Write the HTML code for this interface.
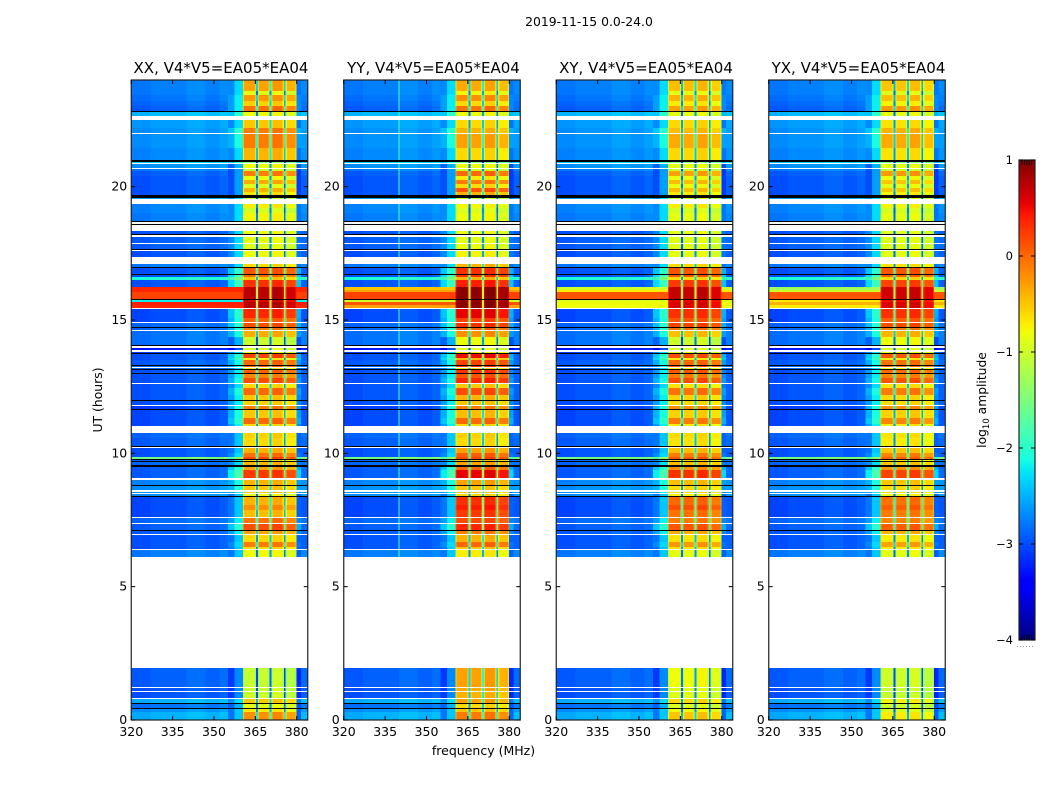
<!DOCTYPE html>
<html lang="en">
<head>
<meta charset="utf-8">
<title>2019-11-15 0.0-24.0</title>
<style>
html,body{margin:0;padding:0;background:#fff;width:1050px;height:800px;overflow:hidden}
svg{display:block}
text{font-family:"DejaVu Sans","Liberation Sans",sans-serif;fill:#000}
</style>
</head>
<body>
<svg id="chart" xmlns="http://www.w3.org/2000/svg" width="1050" height="800" viewBox="0 0 1050 800">
  <rect x="0" y="0" width="1050" height="800" fill="#fff"/>
  <text x="589" y="26" font-size="12.4" text-anchor="middle">2019-11-15 0.0-24.0</text>
  <text x="0" y="0" font-size="12.4" text-anchor="middle" transform="translate(102,400) rotate(-90)">UT (hours)</text>
  <text x="483.5" y="755" font-size="12.5" text-anchor="middle">frequency (MHz)</text>
  <text x="0" y="0" font-size="12.3" text-anchor="middle" transform="translate(986,400) rotate(-90)">log<tspan font-size="8.5" dy="3">10</tspan><tspan dy="-3"> amplitude</tspan></text>
  <g id="panels"></g>
  <g id="colorbar"></g>
</svg>
<script>
/* ---------- chart data ---------- */
const panelTitles = ["XX, V4*V5=EA05*EA04","YY, V4*V5=EA05*EA04","XY, V4*V5=EA05*EA04","YX, V4*V5=EA05*EA04"];
const freqTicks = [320,335,350,365,380];
const hourTicks = [0,5,10,15,20];
const colorbarTicks = [1,0,-1,-2,-3,-4];
const colorbarMinorTicks = [361,363,366,370,375];

/* time-row boundaries in hours UT, top of the plot to the bottom */
const rowEdges = [24.00,23.59,23.44,23.21,23.03,22.84,22.80,22.65,22.50,22.20,22.01,21.98,21.45,21.00,20.93,20.89,20.85,20.70,20.66,20.59,
20.40,20.25,20.10,19.95,19.80,19.69,19.58,19.54,19.35,19.20,19.01,18.71,18.68,18.60,18.56,18.34,18.23,18.19,18.11,17.89,
17.85,17.66,17.63,17.59,17.36,17.10,16.99,16.95,16.73,16.69,16.61,16.50,16.24,15.79,15.75,15.67,15.45,15.41,15.08,14.93,
14.89,14.74,14.70,14.63,14.59,14.36,14.06,14.03,13.95,13.88,13.80,13.76,13.73,13.58,13.50,13.31,13.28,13.24,13.20,13.16,
13.13,13.01,12.98,12.83,12.64,12.60,12.45,12.19,12.00,11.96,11.81,11.78,11.66,11.63,11.33,11.10,11.03,10.76,10.58,10.28,
10.24,10.20,10.01,9.86,9.79,9.75,9.71,9.68,9.56,9.49,9.38,9.08,9.00,8.81,8.78,8.63,8.55,8.51,8.48,8.40,
8.36,8.06,7.88,7.61,7.58,7.39,7.35,7.13,7.09,6.98,6.94,6.68,6.49,6.41,6.38,6.11,1.95,1.24,1.20,1.09,
1.05,0.83,0.79,0.64,0.60,0.45,0.41,0.30,0];

/* d = measured row, w = no data (blank), k = flagged row (black) */
const rowKinds = ("ddddd"+"k"+"d"+"w"+"dd"+"w"+"dd"+"k"+"d"+"w"+"d"+"w"+"d"+"dddddd"+"k"+"d"+"w"+"ddd"+"k"+"w"+"k"+"w"+"d"+"k"+"w"+"d"+"w"+"d"+"k"+"w"+"d"+"w"+"d"+"k"+"d"+"k"+"dddd"+"k"+"dd"+"w"+"dd"+"w"+"d"+"k"+"d"+"w"+"dd"+"k"+"w"+"d"+"w"+"d"+"k"+"ddd"+"k"+"d"+"w"+"d"+"k"+"d"+"k"+"dd"+"w"+"ddd"+"k"+"d"+"w"+"d"+"k"+"ddd"+"w"+"dd"+"k"+"w"+"ddd"+"k"+"d"+"k"+"d"+"k"+"dd"+"w"+"d"+"k"+"d"+"w"+"d"+"w"+"d"+"k"+"ddd"+"w"+"d"+"w"+"d"+"k"+"d"+"w"+"ddd"+"w"+"d"+"w"+"d"+"w"+"d"+"w"+"d"+"w"+"d"+"k"+"d"+"k"+"dd").split("");

/* log10 amplitude inside the 361-380 MHz passband, one value per measured row */
const bandXX = [-0.3,-0.85,-0.25,-0.55,-0.05,-0.8,-0.5,-0.1,-0.1,-0.4,
-1.5,-0.8,-1.0,-0.1,-0.8,-0.35,-0.9,-0.4,-0.65,-1.0,
-0.7,-0.95,-0.75,-0.8,-0.85,-0.9,-0.8,-0.6,0.1,0.0,
-0.5,0.3,0.75,0.6,0.75,0.35,0.05,0.15,-0.1,-0.35,
-1.0,-0.9,-0.8,0.2,-0.7,0.0,0.05,-0.7,0.05,-0.15,
0.15,-0.6,0.0,-0.5,-0.55,-0.1,-0.5,0.0,-0.6,-0.55,
-0.6,-0.4,-0.05,0.2,-0.6,-0.4,-0.3,0.25,-0.4,-0.5,
-0.5,-0.8,-0.4,-0.2,-0.45,-0.05,0.15,-0.3,-0.6,-0.1,
-0.6,-0.8,-1.05,-1.0,-1.0,-0.5,-0.85,-0.7,-0.2];
const bandYY = [-0.35,-0.75,-0.2,-0.6,-0.05,-0.8,-0.6,-0.4,-0.3,-0.6,
-1.5,-0.8,-1.0,0.0,-0.7,-0.1,-0.6,0.1,-0.4,-1.0,
-0.75,-0.9,-0.8,-0.8,-0.85,-0.8,-0.75,-0.4,0.3,0.3,
-0.4,0.4,0.95,0.9,0.95,0.55,0.2,0.3,0.05,-0.2,
-0.8,-0.9,-0.7,0.5,-0.4,0.2,0.3,-0.6,0.3,0.1,
0.35,-0.5,0.15,-0.4,-0.5,-0.1,-0.45,0.0,-0.6,-0.55,
-0.6,-0.3,0.05,0.2,-0.5,-0.3,0.0,0.55,-0.3,-0.5,
-0.5,-0.6,0.3,0.4,0.25,0.15,0.35,-0.1,-0.4,0.0,
-0.5,-0.7,-0.3,-0.35,-0.4,-0.3,-0.6,-0.5,-0.1];
const bandXY = [-0.45,-0.85,-0.4,-0.7,-0.3,-0.85,-0.6,-0.45,-0.35,-0.6,
-1.5,-0.85,-1.0,-0.3,-0.8,-0.45,-0.8,-0.45,-0.7,-1.0,
-0.7,-0.95,-0.85,-0.85,-0.9,-0.9,-0.85,-0.6,0.1,0.1,
-0.6,0.25,0.7,0.55,0.6,0.3,0.1,0.2,-0.05,-0.45,
-1.0,-0.95,-0.85,0.15,-0.7,0.0,0.1,-0.7,0.1,-0.1,
0.15,-0.65,-0.05,-0.55,-0.6,-0.2,-0.55,-0.1,-0.7,-0.6,
-0.65,-0.45,-0.1,0.1,-0.6,-0.45,-0.2,0.3,-0.45,-0.6,
-0.6,-0.75,0.0,0.15,-0.05,-0.1,0.1,-0.35,-0.65,-0.25,
-0.65,-0.85,-0.8,-0.9,-0.9,-0.6,-0.9,-0.8,-0.5];
const bandYX = [-0.5,-0.9,-0.45,-0.75,-0.25,-0.85,-0.65,-0.4,-0.35,-0.65,
-1.5,-0.85,-1.0,-0.25,-0.8,-0.5,-0.85,-0.5,-0.75,-1.0,
-0.75,-0.95,-0.85,-0.9,-0.9,-0.9,-0.85,-0.65,0.1,0.05,
-0.6,0.2,0.65,0.5,0.6,0.3,0.05,0.15,-0.1,-0.4,
-0.8,-0.95,-0.85,0.1,-0.7,-0.05,0.0,-0.75,0.0,-0.15,
0.1,-0.65,-0.1,-0.6,-0.6,-0.2,-0.55,-0.15,-0.7,-0.65,
-0.7,-0.5,-0.15,0.05,-0.65,-0.5,-0.25,0.2,-0.5,-0.6,
-0.65,-0.8,-0.05,0.05,-0.1,-0.15,0.05,-0.4,-0.7,-0.3,
-0.7,-0.85,-1.0,-1.05,-1.05,-0.75,-1.0,-0.95,-0.7];

/* out-of-band background and the shoulder just below the passband, per measured row */
const bgLevel = [-2.8,-2.8,-2.85,-2.9,-2.95,-2.5,-2.65,-2.7,-2.7,-2.75,
-2.4,-2.7,-2.8,-2.95,-3.0,-3.0,-3.0,-3.0,-3.0,-2.6,
-2.75,-2.75,-2.8,-3.0,-2.95,-2.95,-3.0,-2.8,-3.0,-3.0,
-2.1,-3.0,-2.8,-2.2,-2.3,-3.05,-3.05,-2.9,-2.9,-2.85,
-2.85,-3.3,-3.1,-3.0,-3.0,-2.95,-2.9,-2.9,-3.0,-3.0,
-3.0,-3.0,-3.0,-3.0,-3.0,-3.1,-3.05,-3.05,-3.05,-2.9,
-2.95,-3.0,-3.0,-1.6,-2.9,-2.9,-2.95,-2.95,-2.75,-2.7,
-2.7,-2.7,-3.05,-3.05,-3.05,-2.9,-2.95,-2.95,-3.0,-3.0,
-3.0,-2.8,-2.95,-3.0,-3.0,-2.55,-2.85,-2.7,-2.55];
const shoulderLevel = [-2.3,-2.3,-2.2,-2.2,-2.2,-2.0,-2.3,-2.0,-2.1,-2.3,
-2.0,-2.5,-2.6,-2.6,-2.6,-2.6,-2.6,-2.6,-2.6,-2.3,
-2.3,-2.3,-2.3,-2.3,-2.3,-2.3,-2.3,-2.3,-2.0,-1.9,
-1.5,-1.9,-1.6,-1.5,-1.5,-2.0,-2.1,-2.0,-2.1,-2.1,
-2.5,-3.0,-2.3,-2.0,-1.9,-2.1,-2.2,-2.3,-2.2,-2.2,
-2.1,-2.3,-2.1,-2.2,-2.2,-2.1,-2.1,-2.0,-2.2,-2.4,
-2.4,-2.4,-2.3,-1.4,-2.3,-2.3,-2.0,-1.8,-2.1,-2.1,
-2.2,-2.4,-2.4,-2.4,-2.4,-2.2,-2.0,-2.2,-2.4,-2.3,
-2.4,-2.4,-2.7,-2.7,-2.7,-2.3,-2.5,-2.4,-2.4];

/* frequency channels: edges in MHz, which level each one follows, and its offset */
const channelEdges = [320,327,340,347,352,355,357.5,360.5,360.9,364.8,365.2,365.9,366.3,369.8,370.2,370.9,371.3,374.9,375.3,376,376.4,379.6,380,381.5,384];
const channelSource = ["bg","bg","bg","bg","bg","ramp","ramp","band","band","band","band","band","band","band","band","band","band","band","band","band","band","band","ramp","bg"];
const channelOffset = [0,0.05,0.12,0.05,0.12,-0.4,0,-0.3,0,-0.25,-2.0,-0.25,0,-0.25,-1.8,-0.25,0.05,-0.25,-2.0,-0.35,-0.1,-0.35,-0.5,0.1];

/* broadband interference near 15.5-16.2 h, drawn over every out-of-band channel */
const flareEdges = [16.24,16.13,16.05,15.79,15.75,15.67,15.56,15.45];
const flareXX = [0.35,0.35,0.2,null,-2.2,0.4,0.35];
const flareYY = [-0.5,-0.3,0.2,null,-1.0,0.1,-0.3];
const flareXY = [-1.0,-0.7,0.1,null,-0.9,-0.8,-0.8];
const flareYX = [-1.3,-1.0,0.1,null,-0.7,-0.4,-0.7];

/* narrow-band line visible in the YY panel only, above the 2-6 h gap */
const rfiFrequency = [339.9];
const rfiLevelYY = [-1.8];
const rfiStartHour = [6.1];

/* ---------- scales ---------- */
const SVGNS = "http://www.w3.org/2000/svg";
const plotTop = 80, plotBottom = 720, plotWidth = 176.5;
const panelLefts = [0,1,2,3];
function panelLeft(i){ return 131.25 + 212.5 * panelLefts[i]; }
function xScale(i, mhz){ return panelLeft(i) + (mhz - 320) / 64 * plotWidth; }
function yScale(h){ return plotBottom - h / 24 * (plotBottom - plotTop); }
function cbScale(v){ return 160 + (1 - v) / 5 * 480; }

function lerpStops(stops, f){
  for (let i = 1; i < stops.length; i++){
    if (f <= stops[i][0]){
      const a = stops[i-1], b = stops[i];
      return a[1] + (b[1]-a[1]) * (f-a[0]) / (b[0]-a[0]);
    }
  }
  return stops[stops.length-1][1];
}
const jetR = [[0,0],[0.35,0],[0.66,1],[0.89,1],[1,0.5]];
const jetG = [[0,0],[0.125,0],[0.375,1],[0.64,1],[0.91,0],[1,0]];
const jetB = [[0,0.5],[0.11,1],[0.34,1],[0.65,0],[1,0]];
function jet(v){
  const f = Math.max(0, Math.min(1, (v + 4) / 5));
  const c = a => Math.round(255 * lerpStops(a, f));
  return "rgb(" + c(jetR) + "," + c(jetG) + "," + c(jetB) + ")";
}
function mk(tag, attrs, parent){
  const el = document.createElementNS(SVGNS, tag);
  for (const k in attrs) el.setAttribute(k, attrs[k]);
  parent.appendChild(el);
  return el;
}

/* ---------- panels ---------- */
const panelsG = document.getElementById("panels");
const bandByPanel = [bandXX, bandYY, bandXY, bandYX];
const flareByPanel = [flareXX, flareYY, flareXY, flareYX];
const panelKeys = ["xx","yy","xy","yx"];

panelTitles.forEach(function(title, p){
  const g = mk("g", {}, panelsG);
  
  
  const cells = mk("g", {"shape-rendering":"crispEdges"}, g);
  
  

  let d = 0;
  rowKinds.forEach(function(kind, r){
    const y0 = yScale(rowEdges[r]), y1 = yScale(rowEdges[r+1]);
    if (kind === "w") return;
    if (kind === "k"){
      const bar = mk("rect", {x:panelLeft(p), y:y0, width:plotWidth, height:y1-y0, fill:"#000"}, cells);
      
      
      return;
    }
    channelSource.forEach(function(src, c){
      const base = src === "band" ? bandByPanel[p][d] : src === "ramp" ? shoulderLevel[d] : bgLevel[d];
      const x0 = xScale(p, channelEdges[c]), x1 = xScale(p, channelEdges[c+1]);
      const cell = mk("rect", {x:x0, y:y0, width:x1-x0, height:y1-y0, fill:jet(base + channelOffset[c])}, cells);
      
      
    });
    if (p === 1 && rowEdges[r] > rfiStartHour[0]){
      rfiFrequency.forEach(function(mhz, k){
        const line = mk("rect", {x:xScale(p, mhz), y:y0, width:1, height:y1-y0, fill:jet(rfiLevelYY[k])}, cells);
        
        
      });
    }
    d++;
  });

  flareByPanel[p].forEach(function(level, f){
    if (level === null) return;
    const y0 = yScale(flareEdges[f]), y1 = yScale(flareEdges[f+1]);
    channelSource.forEach(function(src, c){
      if (src === "band") return;
      const x0 = xScale(p, channelEdges[c]), x1 = xScale(p, channelEdges[c+1]);
      const cell = mk("rect", {x:x0, y:y0, width:x1-x0, height:y1-y0, fill:jet(level)}, cells);
      
      
    });
  });

  const frame = mk("rect", {x:panelLeft(p), y:plotTop, width:plotWidth, height:plotBottom-plotTop, fill:"none", stroke:"#222", "stroke-width":1.2}, g);
  
  

  const t = mk("text", {x:panelLeft(p)+plotWidth/2+1.5, y:73, "font-size":15, "text-anchor":"middle"}, g);
  
  
  t.textContent = title;

  freqTicks.forEach(function(mhz){
    const x = xScale(p, mhz);
    [[plotBottom, plotBottom-4],[plotTop, plotTop+4]].forEach(function(s){
      const tick = mk("line", {x1:x, x2:x, y1:s[0], y2:s[1], stroke:"#000", "stroke-width":1}, g);
      
      
    });
    const lab = mk("text", {x:x, y:736, "font-size":12.5, "text-anchor":"middle"}, g);
    
    
    lab.textContent = mhz;
  });

  hourTicks.forEach(function(h){
    const y = yScale(h);
    const left = panelLeft(p), right = left + plotWidth;
    [[left, left+4],[right, right-4]].forEach(function(s){
      const tick = mk("line", {x1:s[0], x2:s[1], y1:y, y2:y, stroke:"#000", "stroke-width":1}, g);
      
      
    });
    const lab = mk("text", {x:left-4, y:y+4, "font-size":12.5, "text-anchor":"end"}, g);
    
    
    lab.textContent = h;
  });
});

/* ---------- colorbar ---------- */
const cb = document.getElementById("colorbar");
const cbCells = mk("g", {"shape-rendering":"crispEdges"}, cb);


for (let y = 160; y < 640; y += 2){
  const lvl = 1 - (y + 1 - 160) / 480 * 5;
  const s = mk("rect", {x:1019, y:y, width:16, height:2, fill:jet(lvl)}, cbCells);
  
  
}
const cbFrame = mk("rect", {x:1019, y:160, width:16, height:480, fill:"none", stroke:"#222", "stroke-width":1.2}, cb);


colorbarTicks.forEach(function(v){
  const y = cbScale(v);
  [[1019,1023],[1035,1031]].forEach(function(s){
    const tick = mk("line", {x1:s[0], x2:s[1], y1:y, y2:y, stroke:"#000", "stroke-width":1}, cb);
    
    
  });
  const lab = mk("text", {x:1013, y:y+4, "font-size":11.5, "text-anchor":"end"}, cb);
  
  
  lab.textContent = v < 0 ? "\u2212" + Math.abs(v) : String(v);
});
colorbarMinorTicks.forEach(function(n, i){
  const x = 1022 + i * 2.4;
  [[160,165],[640,635]].forEach(function(s){
    const tick = mk("line", {x1:x, x2:x, y1:s[0], y2:s[1], stroke:"#000", "stroke-width":0.8}, cb);
    
    
  });
});
const dots = mk("line", {x1:1017, x2:1035, y1:646.5, y2:646.5, stroke:"#999", "stroke-width":1, "stroke-dasharray":"1 2"}, cb);


</script>
</body>
</html>
